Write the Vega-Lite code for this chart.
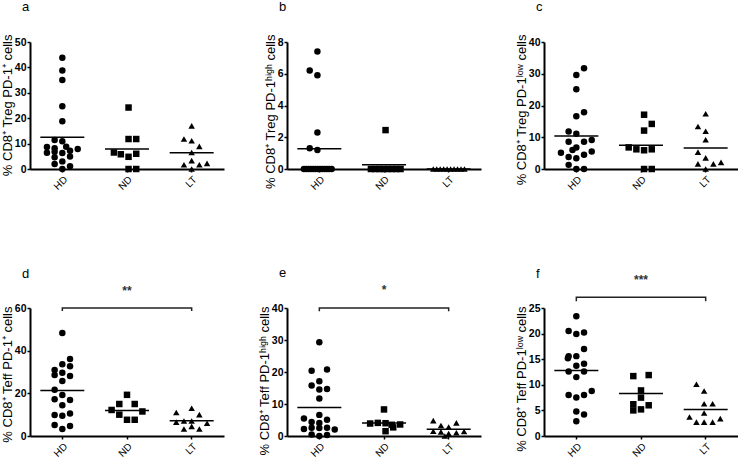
{
"$schema":"https://vega.github.io/schema/vega-lite/v6.json",
"padding":{"left":1,"top":1,"right":0,"bottom":0},
"datasets":{
"pts":[
{"panel":"a","group":"HD","j":0,"v":43.8},{"panel":"a","group":"HD","j":0,"v":38.8},{"panel":"a","group":"HD","j":0,"v":35.0},{"panel":"a","group":"HD","j":0,"v":24.7},{"panel":"a","group":"HD","j":0,"v":18.8},{"panel":"a","group":"HD","j":-1,"v":11.4},{"panel":"a","group":"HD","j":0,"v":10.9},{"panel":"a","group":"HD","j":-2,"v":8.7},{"panel":"a","group":"HD","j":-1,"v":8.2},{"panel":"a","group":"HD","j":0.5,"v":8.8},{"panel":"a","group":"HD","j":2,"v":7.9},{"panel":"a","group":"HD","j":-2,"v":6.4},{"panel":"a","group":"HD","j":-1,"v":6.8},{"panel":"a","group":"HD","j":0,"v":6.3},{"panel":"a","group":"HD","j":1,"v":7.2},{"panel":"a","group":"HD","j":-1,"v":4.6},{"panel":"a","group":"HD","j":1,"v":4.9},{"panel":"a","group":"HD","j":-1,"v":2.0},{"panel":"a","group":"HD","j":0,"v":3.0},{"panel":"a","group":"HD","j":1,"v":1.1},{"panel":"a","group":"HD","j":0,"v":0},
{"panel":"a","group":"ND","j":0.2,"v":24.2},{"panel":"a","group":"ND","j":0.2,"v":11.8},{"panel":"a","group":"ND","j":1.2,"v":11.8},{"panel":"a","group":"ND","j":-1.7,"v":6.5},{"panel":"a","group":"ND","j":-0.8,"v":5.8},{"panel":"a","group":"ND","j":0.2,"v":4.8},{"panel":"a","group":"ND","j":1.2,"v":6.0},{"panel":"a","group":"ND","j":0.2,"v":0},{"panel":"a","group":"ND","j":1.2,"v":0},
{"panel":"a","group":"LT","j":0,"v":17.0},{"panel":"a","group":"LT","j":-1,"v":11.8},{"panel":"a","group":"LT","j":0,"v":11.1},{"panel":"a","group":"LT","j":1,"v":8.9},{"panel":"a","group":"LT","j":0,"v":6.5},{"panel":"a","group":"LT","j":0,"v":3.3},{"panel":"a","group":"LT","j":-1,"v":1.7},{"panel":"a","group":"LT","j":1,"v":1.7},{"panel":"a","group":"LT","j":2,"v":2.2},{"panel":"a","group":"LT","j":0,"v":0},
{"panel":"b","group":"HD","j":-0.25,"v":7.4},{"panel":"b","group":"HD","j":-1.25,"v":6.2},{"panel":"b","group":"HD","j":-0.25,"v":5.9},{"panel":"b","group":"HD","j":-0.25,"v":2.3},{"panel":"b","group":"HD","j":-1.25,"v":1.3},{"panel":"b","group":"HD","j":-0.25,"v":1.2},
{"panel":"b","group":"HD","j":-2,"v":0},{"panel":"b","group":"HD","j":-1.7,"v":0},{"panel":"b","group":"HD","j":-1.4,"v":0},{"panel":"b","group":"HD","j":-1.1,"v":0},{"panel":"b","group":"HD","j":-0.8,"v":0},{"panel":"b","group":"HD","j":-0.5,"v":0},{"panel":"b","group":"HD","j":-0.2,"v":0},{"panel":"b","group":"HD","j":0.1,"v":0},{"panel":"b","group":"HD","j":0.4,"v":0},{"panel":"b","group":"HD","j":0.7,"v":0},{"panel":"b","group":"HD","j":1.0,"v":0},{"panel":"b","group":"HD","j":1.3,"v":0},{"panel":"b","group":"HD","j":1.6,"v":0},
{"panel":"b","group":"ND","j":0.2,"v":2.45},{"panel":"b","group":"ND","j":-1.7,"v":0},{"panel":"b","group":"ND","j":-1.15,"v":0},{"panel":"b","group":"ND","j":-0.6,"v":0},{"panel":"b","group":"ND","j":-0.05,"v":0},{"panel":"b","group":"ND","j":0.5,"v":0},{"panel":"b","group":"ND","j":1.05,"v":0},{"panel":"b","group":"ND","j":1.6,"v":0},{"panel":"b","group":"ND","j":2.15,"v":0},
{"panel":"b","group":"LT","j":-2,"v":0},{"panel":"b","group":"LT","j":-1.55,"v":0},{"panel":"b","group":"LT","j":-1.1,"v":0},{"panel":"b","group":"LT","j":-0.65,"v":0},{"panel":"b","group":"LT","j":-0.2,"v":0},{"panel":"b","group":"LT","j":0.25,"v":0},{"panel":"b","group":"LT","j":0.7,"v":0},{"panel":"b","group":"LT","j":1.15,"v":0},{"panel":"b","group":"LT","j":1.6,"v":0},{"panel":"b","group":"LT","j":2.05,"v":0},
{"panel":"c","group":"HD","j":1,"v":31.7},{"panel":"c","group":"HD","j":0,"v":29.6},{"panel":"c","group":"HD","j":0,"v":25.1},{"panel":"c","group":"HD","j":1,"v":17.9},{"panel":"c","group":"HD","j":0,"v":16.6},{"panel":"c","group":"HD","j":-1,"v":11.8},{"panel":"c","group":"HD","j":0,"v":11.1},{"panel":"c","group":"HD","j":-1,"v":8.6},{"panel":"c","group":"HD","j":1,"v":8.6},{"panel":"c","group":"HD","j":2,"v":9.1},{"panel":"c","group":"HD","j":0,"v":6.8},{"panel":"c","group":"HD","j":-0.5,"v":6.0},{"panel":"c","group":"HD","j":-2,"v":5.1},{"panel":"c","group":"HD","j":2,"v":5.5},{"panel":"c","group":"HD","j":-1,"v":3.8},{"panel":"c","group":"HD","j":0,"v":3.4},{"panel":"c","group":"HD","j":1,"v":4.5},{"panel":"c","group":"HD","j":-1,"v":1.3},{"panel":"c","group":"HD","j":0,"v":0},{"panel":"c","group":"HD","j":1,"v":0},
{"panel":"c","group":"ND","j":0.4,"v":17.1},{"panel":"c","group":"ND","j":1.4,"v":14.2},{"panel":"c","group":"ND","j":0.4,"v":12.1},{"panel":"c","group":"ND","j":-1.6,"v":6.8},{"panel":"c","group":"ND","j":-0.6,"v":6.2},{"panel":"c","group":"ND","j":0.4,"v":5.9},{"panel":"c","group":"ND","j":1.4,"v":6.2},{"panel":"c","group":"ND","j":0.4,"v":0},{"panel":"c","group":"ND","j":1.4,"v":0},
{"panel":"c","group":"LT","j":0,"v":17.4},{"panel":"c","group":"LT","j":-1,"v":13.4},{"panel":"c","group":"LT","j":0,"v":11.9},{"panel":"c","group":"LT","j":0,"v":9.2},{"panel":"c","group":"LT","j":-1,"v":5.3},{"panel":"c","group":"LT","j":0,"v":3.5},{"panel":"c","group":"LT","j":-1,"v":1.6},{"panel":"c","group":"LT","j":1,"v":1.6},{"panel":"c","group":"LT","j":2,"v":2.1},{"panel":"c","group":"LT","j":0,"v":0},
{"panel":"d","group":"HD","j":0,"v":48.3},{"panel":"d","group":"HD","j":1,"v":36.1},{"panel":"d","group":"HD","j":0,"v":33.6},{"panel":"d","group":"HD","j":1,"v":32.7},{"panel":"d","group":"HD","j":-1,"v":30.9},{"panel":"d","group":"HD","j":-1,"v":28.6},{"panel":"d","group":"HD","j":0,"v":29.7},{"panel":"d","group":"HD","j":1,"v":28.1},{"panel":"d","group":"HD","j":0,"v":25.8},{"panel":"d","group":"HD","j":-1,"v":21.7},{"panel":"d","group":"HD","j":0,"v":19.2},{"panel":"d","group":"HD","j":-1,"v":17.2},{"panel":"d","group":"HD","j":1,"v":16.9},{"panel":"d","group":"HD","j":0,"v":14.4},{"panel":"d","group":"HD","j":-1,"v":9.8},{"panel":"d","group":"HD","j":0,"v":9.5},{"panel":"d","group":"HD","j":1,"v":10.5},{"panel":"d","group":"HD","j":-1,"v":5.2},{"panel":"d","group":"HD","j":0,"v":3.3},{"panel":"d","group":"HD","j":1,"v":4.7},
{"panel":"d","group":"ND","j":0,"v":19.3},{"panel":"d","group":"ND","j":-1,"v":15.0},{"panel":"d","group":"ND","j":1,"v":15.0},{"panel":"d","group":"ND","j":-2,"v":12.2},{"panel":"d","group":"ND","j":2,"v":11.5},{"panel":"d","group":"ND","j":-1,"v":10.0},{"panel":"d","group":"ND","j":0,"v":7.6},{"panel":"d","group":"ND","j":1,"v":7.6},
{"panel":"d","group":"LT","j":0,"v":13.0},{"panel":"d","group":"LT","j":-2,"v":11.0},{"panel":"d","group":"LT","j":1,"v":10.0},{"panel":"d","group":"LT","j":-1,"v":7.0},{"panel":"d","group":"LT","j":0,"v":7.0},{"panel":"d","group":"LT","j":-2,"v":6.5},{"panel":"d","group":"LT","j":2,"v":6.0},{"panel":"d","group":"LT","j":-1,"v":3.3},{"panel":"d","group":"LT","j":1,"v":3.3},{"panel":"d","group":"LT","j":0,"v":4.5},
{"panel":"e","group":"HD","j":0,"v":29.3},{"panel":"e","group":"HD","j":-1,"v":20.4},{"panel":"e","group":"HD","j":1,"v":20.8},{"panel":"e","group":"HD","j":-1,"v":15.8},{"panel":"e","group":"HD","j":0,"v":17.1},{"panel":"e","group":"HD","j":0,"v":14.5},{"panel":"e","group":"HD","j":1,"v":14.7},{"panel":"e","group":"HD","j":0,"v":11.7},{"panel":"e","group":"HD","j":0,"v":6.6},{"panel":"e","group":"HD","j":-2,"v":5.5},{"panel":"e","group":"HD","j":1,"v":5.1},{"panel":"e","group":"HD","j":-1,"v":4.4},{"panel":"e","group":"HD","j":0,"v":4.1},{"panel":"e","group":"HD","j":-1,"v":2.6},{"panel":"e","group":"HD","j":-2,"v":2.2},{"panel":"e","group":"HD","j":1,"v":2.6},{"panel":"e","group":"HD","j":2,"v":2.0},{"panel":"e","group":"HD","j":0,"v":2.5},{"panel":"e","group":"HD","j":-1,"v":0.5},{"panel":"e","group":"HD","j":0,"v":0},{"panel":"e","group":"HD","j":1,"v":0.3},
{"panel":"e","group":"ND","j":0,"v":8.3},{"panel":"e","group":"ND","j":-1.8,"v":3.9},{"panel":"e","group":"ND","j":-0.8,"v":4.1},{"panel":"e","group":"ND","j":0.2,"v":4.0},{"panel":"e","group":"ND","j":1.0,"v":3.5},{"panel":"e","group":"ND","j":1.2,"v":2.7},{"panel":"e","group":"ND","j":2.1,"v":3.6},{"panel":"e","group":"ND","j":0.2,"v":1.5},
{"panel":"e","group":"LT","j":-2,"v":4.8},{"panel":"e","group":"LT","j":-1,"v":3.3},{"panel":"e","group":"LT","j":0,"v":2.8},{"panel":"e","group":"LT","j":1,"v":4.1},{"panel":"e","group":"LT","j":-2,"v":1.5},{"panel":"e","group":"LT","j":-1,"v":1.3},{"panel":"e","group":"LT","j":0,"v":0.8},{"panel":"e","group":"LT","j":2,"v":1.4},{"panel":"e","group":"LT","j":-0.5,"v":0},{"panel":"e","group":"LT","j":1,"v":1.0},
{"panel":"f","group":"HD","j":0,"v":23.4},{"panel":"f","group":"HD","j":-1,"v":20.5},{"panel":"f","group":"HD","j":0,"v":19.9},{"panel":"f","group":"HD","j":1,"v":20.2},{"panel":"f","group":"HD","j":1,"v":17.0},{"panel":"f","group":"HD","j":-1,"v":15.6},{"panel":"f","group":"HD","j":-1.1,"v":15.2},{"panel":"f","group":"HD","j":0,"v":15.6},{"panel":"f","group":"HD","j":1,"v":14.1},{"panel":"f","group":"HD","j":0,"v":13.7},{"panel":"f","group":"HD","j":-1,"v":12.6},{"panel":"f","group":"HD","j":1,"v":12.6},{"panel":"f","group":"HD","j":0,"v":11.5},{"panel":"f","group":"HD","j":-1,"v":8.0},{"panel":"f","group":"HD","j":0,"v":7.5},{"panel":"f","group":"HD","j":1,"v":8.0},{"panel":"f","group":"HD","j":2,"v":8.8},{"panel":"f","group":"HD","j":0,"v":4.8},{"panel":"f","group":"HD","j":1,"v":4.2},{"panel":"f","group":"HD","j":0,"v":2.9},
{"panel":"f","group":"ND","j":-1,"v":11.7},{"panel":"f","group":"ND","j":1,"v":11.9},{"panel":"f","group":"ND","j":0,"v":8.9},{"panel":"f","group":"ND","j":0,"v":7.5},{"panel":"f","group":"ND","j":-1,"v":6.2},{"panel":"f","group":"ND","j":1,"v":6.0},{"panel":"f","group":"ND","j":-1,"v":5.0},{"panel":"f","group":"ND","j":0,"v":5.2},
{"panel":"f","group":"LT","j":-1.2,"v":10.1},{"panel":"f","group":"LT","j":-0.2,"v":8.8},{"panel":"f","group":"LT","j":-0.2,"v":6.3},{"panel":"f","group":"LT","j":0.9,"v":6.3},{"panel":"f","group":"LT","j":-0.2,"v":4.5},{"panel":"f","group":"LT","j":-2.1,"v":3.7},{"panel":"f","group":"LT","j":-1.2,"v":2.7},{"panel":"f","group":"LT","j":-0.2,"v":2.7},{"panel":"f","group":"LT","j":0.9,"v":2.7},{"panel":"f","group":"LT","j":1.9,"v":3.4}
],
"means":[
{"panel":"a","group":"HD","v":12.5},{"panel":"a","group":"ND","v":7.9},{"panel":"a","group":"LT","v":6.4},
{"panel":"b","group":"HD","v":1.28},{"panel":"b","group":"ND","v":0.27},{"panel":"b","group":"LT","v":0},
{"panel":"c","group":"HD","v":10.4},{"panel":"c","group":"ND","v":7.5},{"panel":"c","group":"LT","v":6.6},
{"panel":"d","group":"HD","v":21.3},{"panel":"d","group":"ND","v":11.9},{"panel":"d","group":"LT","v":7.2},
{"panel":"e","group":"HD","v":8.9},{"panel":"e","group":"ND","v":4.1},{"panel":"e","group":"LT","v":2.1},
{"panel":"f","group":"HD","v":12.8},{"panel":"f","group":"ND","v":8.3},{"panel":"f","group":"LT","v":5.2}
],
"brackets":[
{"panel":"d","group":"HD","v":58.6,"o":1},{"panel":"d","group":"HD","v":60,"o":2},{"panel":"d","group":"LT","v":60,"o":3},{"panel":"d","group":"LT","v":58.6,"o":4},
{"panel":"e","group":"HD","v":39.0,"o":1},{"panel":"e","group":"HD","v":40,"o":2},{"panel":"e","group":"LT","v":40,"o":3},{"panel":"e","group":"LT","v":39.0,"o":4},
{"panel":"f","group":"HD","v":26.3,"o":1},{"panel":"f","group":"HD","v":27.1,"o":2},{"panel":"f","group":"LT","v":27.1,"o":3},{"panel":"f","group":"LT","v":26.3,"o":4}
],
"stars":[
{"panel":"d","group":"ND","v":68,"t":"**"},
{"panel":"e","group":"ND","v":45.6,"t":"*"},
{"panel":"f","group":"ND","v":30.5,"t":"***"}
]
},
"columns":3,
"spacing":{"row":139,"column":63},
"bounds":"flush",
"concat":[
{"width":194,"height":127,"title":{"text":"a","offset":20},
 "encoding":{"x":{"field":"group","type":"nominal","sort":["HD","ND","LT"],"scale":{"paddingInner":0,"paddingOuter":0},"axis":{"title":null}},
   "y":{"field":"v","type":"quantitative","scale":{"domain":[0,50],"nice":false},"axis":{"title":"% CD8⁺ Treg PD-1⁺ cells","values":[0,10,20,30,40,50],"labelOverlap":false,"titleY":-8}}},
 "layer":[
  {"data":{"name":"pts"},"transform":[{"filter":"datum.panel==='a'"}],"mark":{"type":"point","filled":true,"color":"black","opacity":1,"size":42},
   "encoding":{"xOffset":{"field":"j","type":"quantitative","scale":{"domain":[-4.2,4.2]}},
   "shape":{"field":"group","type":"nominal","scale":{"domain":["HD","ND","LT"],"range":["circle","square","triangle-up"]},"legend":null}}},
  {"data":{"name":"means"},"transform":[{"filter":"datum.panel==='a'"}],"mark":{"type":"tick","color":"black","thickness":1.5,"size":44,"opacity":1}}
 ]},
{"width":194,"height":127,"title":{"text":"b","offset":20},
 "encoding":{"x":{"field":"group","type":"nominal","sort":["HD","ND","LT"],"scale":{"paddingInner":0,"paddingOuter":0},"axis":{"title":null}},
   "y":{"field":"v","type":"quantitative","scale":{"domain":[0,8],"nice":false},"axis":{"title":"% CD8⁺ Treg PD-1ʰⁱᵍʰ cells","values":[0,2,4,6,8],"labelOverlap":false,"titleY":-8}}},
 "layer":[
  {"data":{"name":"pts"},"transform":[{"filter":"datum.panel==='b'"}],"mark":{"type":"point","filled":true,"color":"black","opacity":1,"size":42},
   "encoding":{"xOffset":{"field":"j","type":"quantitative","scale":{"domain":[-4.2,4.2]}},
   "shape":{"field":"group","type":"nominal","scale":{"domain":["HD","ND","LT"],"range":["circle","square","triangle-up"]},"legend":null}}},
  {"data":{"name":"means"},"transform":[{"filter":"datum.panel==='b'"}],"mark":{"type":"tick","color":"black","thickness":1.5,"size":44,"opacity":1}}
 ]},
{"width":194,"height":127,"title":{"text":"c","offset":20},
 "encoding":{"x":{"field":"group","type":"nominal","sort":["HD","ND","LT"],"scale":{"paddingInner":0,"paddingOuter":0},"axis":{"title":null}},
   "y":{"field":"v","type":"quantitative","scale":{"domain":[0,40],"nice":false},"axis":{"title":"% CD8⁺ Treg PD-1ˡᵒʷ cells","values":[0,10,20,30,40],"labelOverlap":false,"titleY":-8}}},
 "layer":[
  {"data":{"name":"pts"},"transform":[{"filter":"datum.panel==='c'"}],"mark":{"type":"point","filled":true,"color":"black","opacity":1,"size":42},
   "encoding":{"xOffset":{"field":"j","type":"quantitative","scale":{"domain":[-4.2,4.2]}},
   "shape":{"field":"group","type":"nominal","scale":{"domain":["HD","ND","LT"],"range":["circle","square","triangle-up"]},"legend":null}}},
  {"data":{"name":"means"},"transform":[{"filter":"datum.panel==='c'"}],"mark":{"type":"tick","color":"black","thickness":1.5,"size":44,"opacity":1}}
 ]},
{"width":194,"height":128,"title":{"text":"d","offset":4},
 "encoding":{"x":{"field":"group","type":"nominal","sort":["HD","ND","LT"],"scale":{"paddingInner":0,"paddingOuter":0},"axis":{"title":null}},
   "y":{"field":"v","type":"quantitative","scale":{"domain":[0,60],"nice":false},"axis":{"title":"% CD8⁺ Teff PD-1⁺ cells","values":[0,20,40,60],"labelOverlap":false,"titleY":-2}}},
 "layer":[
  {"data":{"name":"pts"},"transform":[{"filter":"datum.panel==='d'"}],"mark":{"type":"point","filled":true,"color":"black","opacity":1,"size":42},
   "encoding":{"xOffset":{"field":"j","type":"quantitative","scale":{"domain":[-4.2,4.2]}},
   "shape":{"field":"group","type":"nominal","scale":{"domain":["HD","ND","LT"],"range":["circle","square","triangle-up"]},"legend":null}}},
  {"data":{"name":"means"},"transform":[{"filter":"datum.panel==='d'"}],"mark":{"type":"tick","color":"black","thickness":1.5,"size":44,"opacity":1}},
  {"data":{"name":"brackets"},"transform":[{"filter":"datum.panel==='d'"}],"mark":{"type":"line","color":"#222","strokeWidth":1.5},
   "encoding":{"order":{"field":"o"}}},
  {"data":{"name":"stars"},"transform":[{"filter":"datum.panel==='d'"}],"mark":{"type":"text","fontSize":12,"fontWeight":"bold","color":"#333"},
   "encoding":{"text":{"field":"t"}}}
 ]},
{"width":194,"height":128,"title":{"text":"e","offset":4},
 "encoding":{"x":{"field":"group","type":"nominal","sort":["HD","ND","LT"],"scale":{"paddingInner":0,"paddingOuter":0},"axis":{"title":null}},
   "y":{"field":"v","type":"quantitative","scale":{"domain":[0,40],"nice":false},"axis":{"title":"% CD8⁺ Teff PD-1ʰⁱᵍʰ cells","values":[0,10,20,30,40],"labelOverlap":false,"titleY":-2}}},
 "layer":[
  {"data":{"name":"pts"},"transform":[{"filter":"datum.panel==='e'"}],"mark":{"type":"point","filled":true,"color":"black","opacity":1,"size":42},
   "encoding":{"xOffset":{"field":"j","type":"quantitative","scale":{"domain":[-4.2,4.2]}},
   "shape":{"field":"group","type":"nominal","scale":{"domain":["HD","ND","LT"],"range":["circle","square","triangle-up"]},"legend":null}}},
  {"data":{"name":"means"},"transform":[{"filter":"datum.panel==='e'"}],"mark":{"type":"tick","color":"black","thickness":1.5,"size":44,"opacity":1}},
  {"data":{"name":"brackets"},"transform":[{"filter":"datum.panel==='e'"}],"mark":{"type":"line","color":"#222","strokeWidth":1.5},
   "encoding":{"order":{"field":"o"}}},
  {"data":{"name":"stars"},"transform":[{"filter":"datum.panel==='e'"}],"mark":{"type":"text","fontSize":12,"fontWeight":"bold","color":"#333"},
   "encoding":{"text":{"field":"t"}}}
 ]},
{"width":194,"height":128,"title":{"text":"f","offset":-7},
 "encoding":{"x":{"field":"group","type":"nominal","sort":["HD","ND","LT"],"scale":{"paddingInner":0,"paddingOuter":0},"axis":{"title":null}},
   "y":{"field":"v","type":"quantitative","scale":{"domain":[0,25],"nice":false},"axis":{"title":"% CD8⁺ Teff PD-1ˡᵒʷ cells","values":[0,5,10,15,20,25],"labelOverlap":false,"titleY":-2}}},
 "layer":[
  {"data":{"name":"pts"},"transform":[{"filter":"datum.panel==='f'"}],"mark":{"type":"point","filled":true,"color":"black","opacity":1,"size":42},
   "encoding":{"xOffset":{"field":"j","type":"quantitative","scale":{"domain":[-4.2,4.2]}},
   "shape":{"field":"group","type":"nominal","scale":{"domain":["HD","ND","LT"],"range":["circle","square","triangle-up"]},"legend":null}}},
  {"data":{"name":"means"},"transform":[{"filter":"datum.panel==='f'"}],"mark":{"type":"tick","color":"black","thickness":1.5,"size":44,"opacity":1}},
  {"data":{"name":"brackets"},"transform":[{"filter":"datum.panel==='f'"}],"mark":{"type":"line","color":"#222","strokeWidth":1.5},
   "encoding":{"order":{"field":"o"}}},
  {"data":{"name":"stars"},"transform":[{"filter":"datum.panel==='f'"}],"mark":{"type":"text","fontSize":12,"fontWeight":"bold","color":"#333"},
   "encoding":{"text":{"field":"t"}}}
 ]}
],
"config":{
 "font":"Liberation Sans",
 "view":{"stroke":null},
 "axis":{"domainColor":"black","domainWidth":2,"tickColor":"black","tickWidth":1.5,"tickSize":3,"labelColor":"black","titleColor":"black","grid":false,"labelFont":"Liberation Sans","titleFont":"Liberation Sans","labelFlush":false},
 "axisY":{"labelFontWeight":"bold","labelFontSize":10.5,"titleFontSize":13,"titleFontWeight":"normal","titlePadding":0,"labelPadding":1,"titleAnchor":"end"},
 "axisX":{"labelFontSize":10,"labelAngle":-45,"labelPadding":2},
 "title":{"anchor":"start","fontSize":13,"fontWeight":"normal","color":"black","frame":"group","dx":-8}
}
}
